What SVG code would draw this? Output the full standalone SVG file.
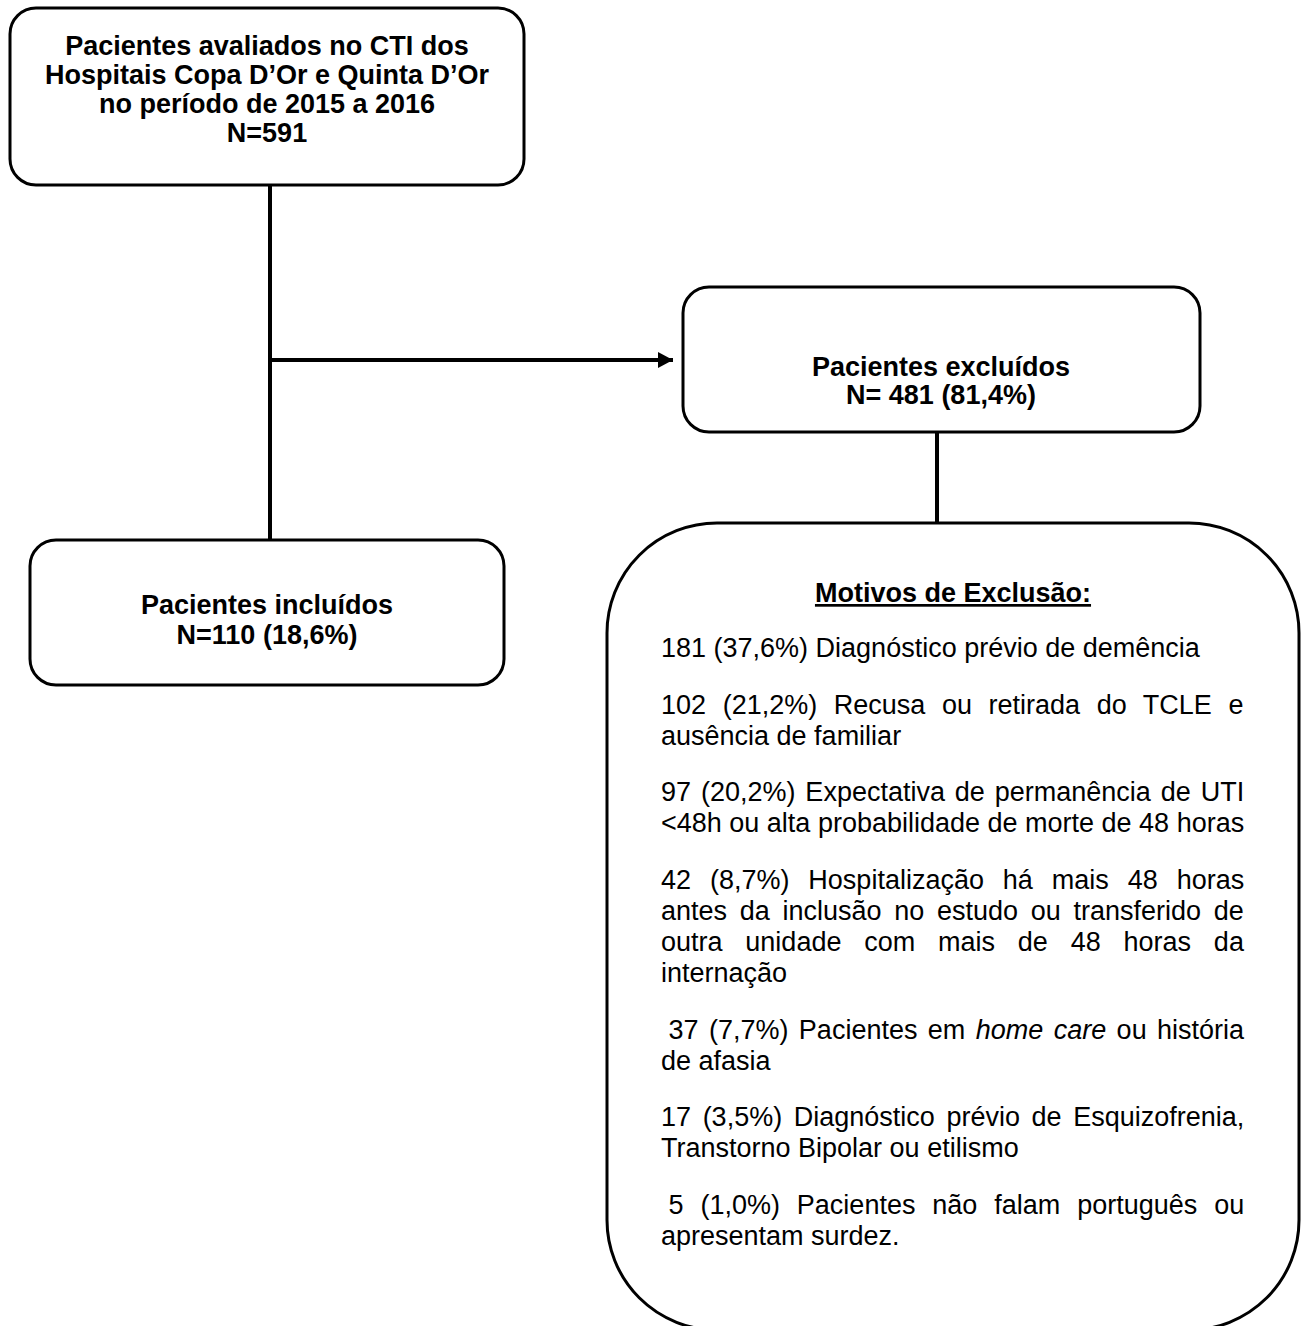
<svg xmlns="http://www.w3.org/2000/svg" width="1304" height="1326" viewBox="0 0 1304 1326">
<style>
.box{fill:#fff;stroke:#000;stroke-width:3}
.conn{stroke:#000;stroke-width:4;fill:none}
.b{font-family:"Liberation Sans",Arial,sans-serif;font-weight:bold;font-size:27px;fill:#000;text-anchor:middle}
.r{font-family:"Liberation Sans",Arial,sans-serif;font-size:27px;fill:#000}
</style>
<defs>
<marker id="arr" markerWidth="16" markerHeight="16" refX="15" refY="8" orient="auto" markerUnits="userSpaceOnUse">
<path d="M0,0 L15,8 L0,16 z" fill="#000"/>
</marker>
</defs>
<g id="connectors">
<line class="conn" x1="270" y1="185" x2="270" y2="540"/>
<line class="conn" x1="270" y1="360" x2="673" y2="360" marker-end="url(#arr)"/>
<line class="conn" x1="937" y1="432" x2="937" y2="523"/>
</g>
<g id="avaliados">
<rect class="box" x="10" y="8" width="514" height="177" rx="26"/>
<text class="b" x="267" y="55">Pacientes avaliados no CTI dos</text>
<text class="b" x="267" y="84">Hospitais Copa D’Or e Quinta D’Or</text>
<text class="b" x="267" y="113">no período de 2015 a 2016</text>
<text class="b" x="267" y="142">N=591</text>
</g>
<g id="excluidos">
<rect class="box" x="683" y="287" width="517" height="145" rx="26"/>
<text class="b" x="941" y="376">Pacientes excluídos</text>
<text class="b" x="941" y="404">N= 481 (81,4%)</text>
</g>
<g id="incluidos">
<rect class="box" x="30" y="540" width="474" height="145" rx="26"/>
<text class="b" x="267" y="614">Pacientes incluídos</text>
<text class="b" x="267" y="644">N=110 (18,6%)</text>
</g>
<g id="motivos">
<rect class="box" x="607" y="523" width="692" height="807" rx="110"/>
<text class="b" x="953" y="602" text-decoration="underline">Motivos de Exclusão:</text>
<text class="r" x="661" y="657">181 (37,6%) Diagnóstico prévio de demência</text>
<text class="r" x="661" y="714" word-spacing="9.1">102 (21,2%) Recusa ou retirada do TCLE e</text>
<text class="r" x="661" y="745">ausência de familiar</text>
<text class="r" x="661" y="801" word-spacing="2.4">97 (20,2%) Expectativa de permanência de UTI</text>
<text class="r" x="661" y="832">&lt;48h ou alta probabilidade de morte de 48 horas</text>
<text class="r" x="661" y="889" word-spacing="11.4">42 (8,7%) Hospitalização há mais 48 horas</text>
<text class="r" x="661" y="920" word-spacing="5.2">antes da inclusão no estudo ou transferido de</text>
<text class="r" x="661" y="951" word-spacing="15.3">outra unidade com mais de 48 horas da</text>
<text class="r" x="661" y="982">internação</text>
<text class="r" x="668.5" y="1039" word-spacing="2.9">37 (7,7%) Pacientes em <tspan font-style="italic">home care</tspan> ou história</text>
<text class="r" x="661" y="1070">de afasia</text>
<text class="r" x="661" y="1126" word-spacing="4.1">17 (3,5%) Diagnóstico prévio de Esquizofrenia,</text>
<text class="r" x="661" y="1157">Transtorno Bipolar ou etilismo</text>
<text class="r" x="668.5" y="1214" word-spacing="9.4">5 (1,0%) Pacientes não falam português ou</text>
<text class="r" x="661" y="1245">apresentam surdez.</text>
</g>
</svg>
